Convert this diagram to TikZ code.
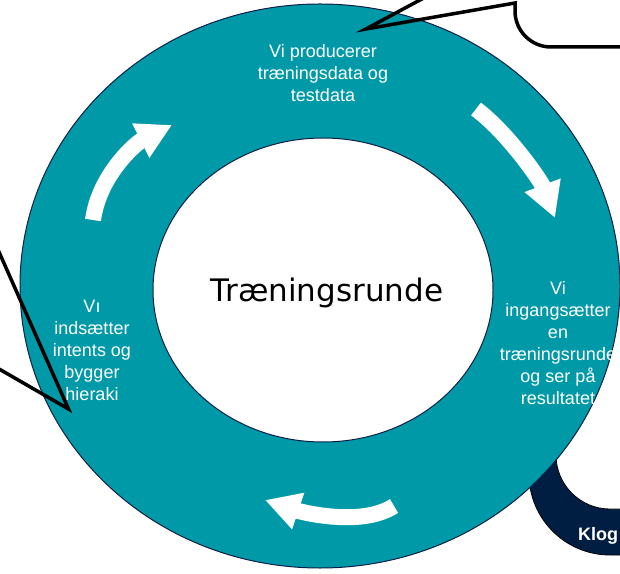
\documentclass[tikz,border=0pt]{standalone}
\usepackage{fontspec}
\setmainfont{Liberation Sans}
\newfontfamily\roundfont{DejaVu Sans}
\usepackage{xcolor}
\usetikzlibrary{arrows.meta, positioning}
\definecolor{ringteal}{RGB}{0,153,168}
\definecolor{ringline}{RGB}{10,30,70}
\definecolor{klognavy}{RGB}{0,30,66}

\begin{document}
\begin{tikzpicture}[x=1pt, y=1pt,
    ringtext/.style={text=white, align=center, inner sep=0pt, font=\fontsize{18}{22}\selectfont},
    ringarrow/.style={draw=white, line width=16pt, -{Triangle[length=35pt, width=36pt]}},
    callout/.style={draw=black, line width=3.5pt}]
    \useasboundingbox (0,0) rectangle (620,573);
    \clip (0,0) rectangle (620,573);

    % Next round, behind the ring
    \fill[klognavy] (529,400) -- (529,99) arc (180:270:81) -- (700,18) -- (700,400) -- cycle;
    \fill[white] (556,450) -- (556,118) arc (180:270:54) -- (700,64) -- (700,450) -- cycle;
    \draw[black, line width=0.8pt] (529,99) arc (180:270:81) -- (700,18);
    \draw[black, line width=0.8pt] (556,118) arc (180:270:54) -- (700,64);
    \node[anchor=base west, text=white, inner sep=0pt, font=\bfseries\fontsize{18}{22}\selectfont] (klog) at (578,33) {Klog};

    % Ring
    \draw[fill=ringteal, draw=ringline, line width=1pt] (320,287) ellipse [x radius=300pt, y radius=282pt];
    \draw[fill=white, draw=ringline, line width=1pt] (323,283) ellipse [x radius=170pt, y radius=152pt];

    % Arrows round the ring
    \draw[ringarrow] (93,353) .. controls (99,398) and (136,430) .. (172,448);
    \draw[ringarrow] (476,464) .. controls (508,440) and (541,392) .. (555,355);
    \draw[ringarrow] (394,67) .. controls (360,45) and (298,62) .. (265,73);

    % Texts
    \node[anchor=base, inner sep=0pt, font=\roundfont\fontsize{31}{36}\selectfont] (round) at (327,271) {Træningsrunde};
    \node[ringtext] (produce) at (323,500) {Vi producerer\\træningsdata og\\testdata};
    \node[ringtext] (start) at (558,230) {Vi\\ingangsætter\\en\\træningsrunde\\og ser på\\resultatet};
    \node[ringtext] (insert) at (92,223) {V\i\\indsætter\\intents og\\bygger\\hieraki};

    % Callouts
    \draw[callout] (515,700) -- (515,624) -- (366,544) -- (515,570) -- (515,562) arc (180:270:36) -- (700,526);
    \draw[callout] (-20,364) -- (68.5,164) -- (-20,215);
\end{tikzpicture}
\end{document}
